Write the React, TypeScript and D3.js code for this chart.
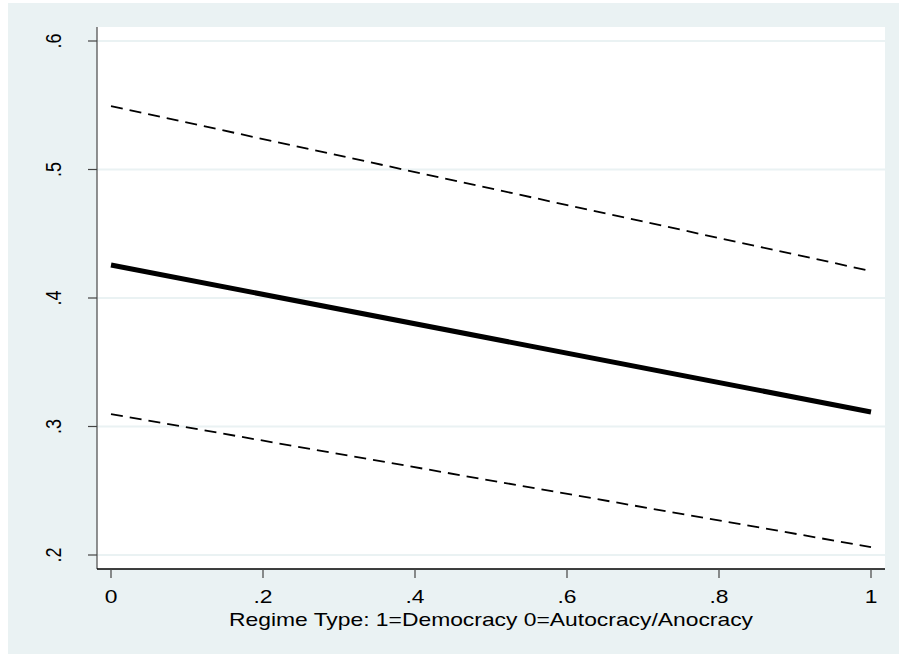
import React from "react";
import * as d3 from "d3";

const xValues = [0, 1];
const fitValues = [0.4257, 0.3113];
const upperValues = [0.5494, 0.421];
const lowerValues = [0.3097, 0.2062];
const xTicks = [0, 0.2, 0.4, 0.6, 0.8, 1];
const xTickLabels = ["0", ".2", ".4", ".6", ".8", "1"];
const yTicks = [0.2, 0.3, 0.4, 0.5, 0.6];
const yTickLabels = [".2", ".3", ".4", ".5", ".6"];
const xTitle = "Regime Type: 1=Democracy 0=Autocracy/Anocracy";

const W = 899;
const H = 655;
const BG = "#EAF2F3";
const FONT = "Arial, 'Liberation Sans', sans-serif";
const SX = 1.27;

export default function App() {
  const x = d3.scaleLinear().domain([0, 1]).range([111, 871]);
  const y = d3.scaleLinear().domain([0.2, 0.6]).range([555, 41]);
  const line = d3
    .line<[number, number]>()
    .x((d) => x(d[0]))
    .y((d) => y(d[1]));
  const pts = (vals: number[]) => xValues.map((v, i) => [v, vals[i]] as [number, number]);

  const plot = { x0: 97, x1: 885, y0: 27, y1: 569 };

  return (
    <svg
      width={W}
      height={H}
      style={{ position: "absolute", left: 0, top: 0, display: "block" }}
    >
      <rect x={0} y={0} width={W} height={H} fill="#ffffff" />
      <rect x={8} y={3} width={W - 8} height={651} fill={BG} />
      <rect
        x={plot.x0}
        y={plot.y0}
        width={plot.x1 - plot.x0}
        height={plot.y1 - plot.y0}
        fill="#ffffff"
      />
      {yTicks.map((t) => (
        <line
          key={"g" + t}
          x1={plot.x0}
          x2={plot.x1}
          y1={y(t)}
          y2={y(t)}
          stroke={BG}
          strokeWidth={2}
        />
      ))}
      <path
        d={line(pts(upperValues)) || ""}
        fill="none"
        stroke="#000"
        strokeWidth={1.8}
        strokeDasharray="12,7"
      />
      <path
        d={line(pts(lowerValues)) || ""}
        fill="none"
        stroke="#000"
        strokeWidth={1.8}
        strokeDasharray="12,7"
      />
      <path
        d={line(pts(fitValues)) || ""}
        fill="none"
        stroke="#000"
        strokeWidth={5}
      />
      {/* y axis */}
      <line x1={plot.x0} x2={plot.x0} y1={plot.y0} y2={plot.y1} stroke="#555" strokeWidth={1.3} />
      {yTicks.map((t, i) => (
        <g key={"y" + t}>
          <line x1={88} x2={plot.x0} y1={y(t)} y2={y(t)} stroke="#444" strokeWidth={1.2} />
          <text
            transform={`translate(61,${y(t)}) scale(${SX},1) rotate(-90)`}
            textAnchor="middle"
            fontFamily={FONT}
            fontSize={18}
            fill="#000"
          >
            {yTickLabels[i]}
          </text>
        </g>
      ))}
      {/* x axis */}
      <line x1={plot.x0} x2={plot.x1} y1={plot.y1} y2={plot.y1} stroke="#000" strokeWidth={1.3} />
      {xTicks.map((t, i) => (
        <g key={"x" + t}>
          <line x1={x(t)} x2={x(t)} y1={plot.y1} y2={578} stroke="#444" strokeWidth={1.2} />
          <text
            transform={`translate(${x(t)},603) scale(${SX},1)`}
            textAnchor="middle"
            fontFamily={FONT}
            fontSize={18}
            fill="#000"
          >
            {xTickLabels[i]}
          </text>
        </g>
      ))}
      <text
        transform={`translate(${(x(0) + x(1)) / 2},626) scale(${SX},1)`}
        textAnchor="middle"
        fontFamily={FONT}
        fontSize={18}
        fill="#000"
      >
        {xTitle}
      </text>
    </svg>
  );
}
